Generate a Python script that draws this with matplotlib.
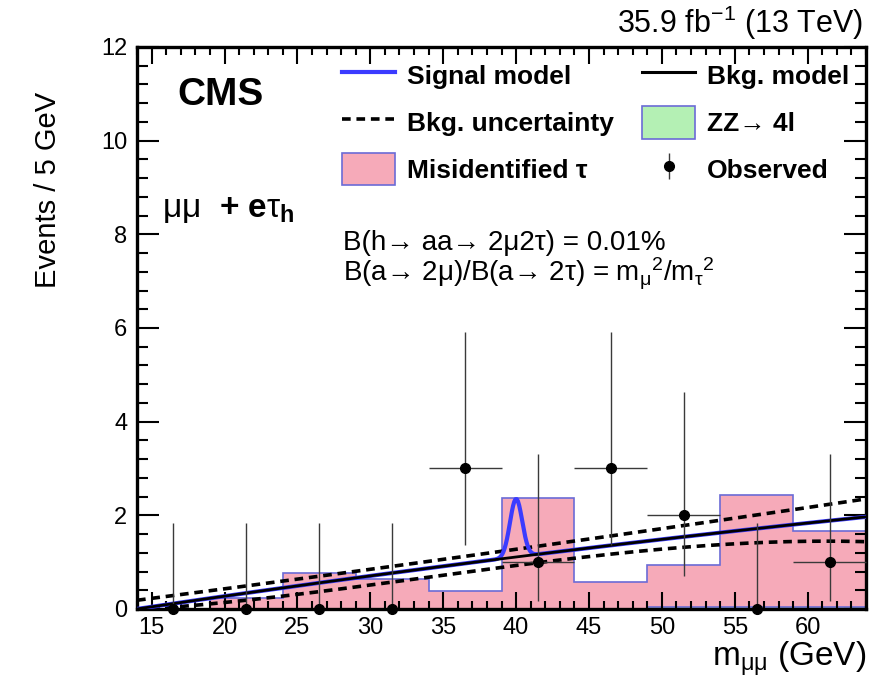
import numpy as np
import matplotlib
matplotlib.use("Agg")
import matplotlib.pyplot as plt
from matplotlib.patches import Patch
from matplotlib.lines import Line2D
from matplotlib.ticker import MultipleLocator

plt.rcParams['font.family'] = ['Liberation Sans', 'DejaVu Sans']
plt.rcParams['mathtext.fontset'] = 'custom'
plt.rcParams['mathtext.rm'] = 'Liberation Sans'
plt.rcParams['mathtext.it'] = 'Liberation Sans:italic'
plt.rcParams['mathtext.bf'] = 'Liberation Sans:bold'
plt.rcParams['mathtext.default'] = 'regular'

# --- binning (5 GeV bins) ---
bin_edges = [14, 19, 24, 29, 34, 39, 44, 49, 54, 59, 64]
bin_centers = [16.5, 21.5, 26.5, 31.5, 36.5, 41.5, 46.5, 51.5, 56.5, 61.5]

# --- stacked backgrounds (events / bin) ---
zz_4l = [0.0, 0.0, 0.0, 0.005, 0.005, 0.005, 0.01, 0.04, 0.04, 0.04]
misid_tau = [0.0, 0.24, 0.76, 0.64, 0.37, 2.37, 0.57, 0.90, 2.40, 1.63]

# --- observed data with asymmetric Poisson errors ---
observed = [0, 0, 0, 0, 3, 1, 3, 2, 0, 1]
obs_err_lo = [0, 0, 0, 0, 1.63, 0.83, 1.63, 1.29, 0, 0.83]
obs_err_hi = [1.84, 1.84, 1.84, 1.84, 2.92, 2.30, 2.92, 2.64, 1.84, 2.30]
obs_xerr = [0, 0, 0, 0, 2.5, 2.5, 2.5, 2.5, 0, 2.5]

# --- background model and its uncertainty band, sampled in m_mumu ---
model_mass = [14, 16.6, 24, 31.4, 40, 43, 50, 56.6, 64]
bkg_model = [0.0, 0.12, 0.45, 0.77, 1.11, 1.23, 1.48, 1.72, 1.97]
bkg_up = [0.19, 0.30, 0.59, 0.88, 1.28, 1.42, 1.72, 2.02, 2.34]
bkg_down = [-0.03, 0.06, 0.28, 0.56, 0.92, 1.05, 1.30, 1.40, 1.44]

# --- signal peak parameters ---
sig_mass = 40.0
sig_width = 0.42
sig_height = 1.24

x_fine = np.linspace(14, 64, 600)


def smooth(vals, deg):
    coef = np.polyfit(model_mass, vals, deg)
    return np.polyval(coef, x_fine)


bkg_curve = smooth(bkg_model, 2)
up_curve = smooth(bkg_up, 2)
down_curve = smooth(bkg_down, 3)
sig_curve = bkg_curve + sig_height * np.exp(-0.5 * ((x_fine - sig_mass) / sig_width) ** 2)

fig = plt.figure(figsize=(8.75, 6.79), dpi=100)
ax = fig.add_axes([0.1566, 0.1031, 0.8331, 0.8277])

pink = '#f6aab9'
green = '#b4f0b4'
edge = '#6b6bd6'

zz = np.array(zz_4l)
mis = np.array(misid_tau)
ax.stairs(zz, bin_edges, baseline=0, fill=True, facecolor=green, edgecolor='none', zorder=1)
ax.stairs(zz + mis, bin_edges, baseline=zz, fill=True, facecolor=pink, edgecolor='none', zorder=1)
ax.stairs(zz, bin_edges, baseline=None, color=edge, lw=1.2, zorder=1.1)
ax.stairs(zz + mis, bin_edges, baseline=None, color=edge, lw=1.2, zorder=1.1)

dash = (0, (2.4, 1.6))
ax.plot(x_fine, up_curve, color='black', lw=2.6, linestyle=dash, zorder=3)
ax.plot(x_fine, down_curve, color='black', lw=2.6, linestyle=dash, zorder=3)
ax.plot(x_fine, sig_curve, color='#3b3bff', lw=3.0, zorder=3.2)
ax.plot(x_fine, bkg_curve, color='black', lw=2.0, zorder=3.3)

ax.errorbar(bin_centers, observed, yerr=[obs_err_lo, obs_err_hi], xerr=obs_xerr,
            fmt='o', color='black', ecolor='#3a3a3a', elinewidth=1.0, capsize=0,
            markersize=7, zorder=4, clip_on=False)

ax.set_xlim(14, 64)
ax.set_ylim(0, 12)
ax.xaxis.set_major_locator(MultipleLocator(5))
ax.xaxis.set_minor_locator(MultipleLocator(1))
ax.yaxis.set_major_locator(MultipleLocator(2))
ax.yaxis.set_minor_locator(MultipleLocator(0.4))
ax.tick_params(which='both', direction='in', top=True, right=True, labelsize=17, width=1.5)
ax.tick_params(axis='y', which='major', length=16, pad=7)
ax.tick_params(axis='y', which='minor', length=8)
ax.tick_params(axis='x', which='major', length=12, pad=6)
ax.tick_params(axis='x', which='minor', length=6)
for s in ax.spines.values():
    s.set_linewidth(2.4)

ax.set_ylabel('Events / 5 GeV', fontsize=21)
ax.yaxis.set_label_coords(-0.103, 0.745)
ax.set_xlabel(r'm$_{\mu\mu}$ (GeV)', fontsize=24, loc='right', labelpad=0)

fig.text(0.986, 0.938, r'35.9 fb$^{-1}$ (13 TeV)', ha='right', va='bottom', fontsize=22)
ax.text(0.055, 0.915, 'CMS', transform=ax.transAxes, fontsize=28, fontweight='bold',
        ha='left', va='center')
ax.text(0.034, 0.71, r'$\mu\mu$  $\mathbf{+\ e}\tau_{\mathbf{h}}$', transform=ax.transAxes,
        fontsize=24, ha='left', va='center')
ax.text(0.282, 0.651, 'B(h→ aa→ 2μ2τ) = 0.01%', transform=ax.transAxes,
        fontsize=20, ha='left', va='center')
ax.text(0.282, 0.596, r'B(a→ 2μ)/B(a→ 2τ) = m$_{\mu}{}^{2}$/m$_{\tau}{}^{2}$',
        transform=ax.transAxes, fontsize=20, ha='left', va='center')

h_sig = Line2D([], [], color='#3b3bff', lw=3.0)
h_bkg = Line2D([], [], color='black', lw=2.2)
h_unc = Line2D([], [], color='black', lw=2.6, linestyle=dash)
h_zz = Patch(facecolor=green, edgecolor=edge, lw=1.2)
h_mis = Patch(facecolor=pink, edgecolor=edge, lw=1.2)
h_obs = ax.errorbar([], [], yerr=[], fmt='o', color='black', ecolor='#3a3a3a',
                    elinewidth=1.0, markersize=7)
handles = [h_sig, h_unc, h_mis, h_bkg, h_zz, h_obs]
labels = ['Signal model', 'Bkg. uncertainty', 'Misidentified τ',
          'Bkg. model', 'ZZ→ 4l', 'Observed']
leg = ax.legend(handles, labels, ncol=2, loc='upper left', bbox_to_anchor=(0.281, 0.978),
                frameon=False, borderpad=0, borderaxespad=0, handlelength=2.0,
                handleheight=1.5, handletextpad=0.45, columnspacing=1.1,
                labelspacing=0.56, prop={'weight': 'bold', 'size': 19})

fig.savefig('out.png', dpi=100)
